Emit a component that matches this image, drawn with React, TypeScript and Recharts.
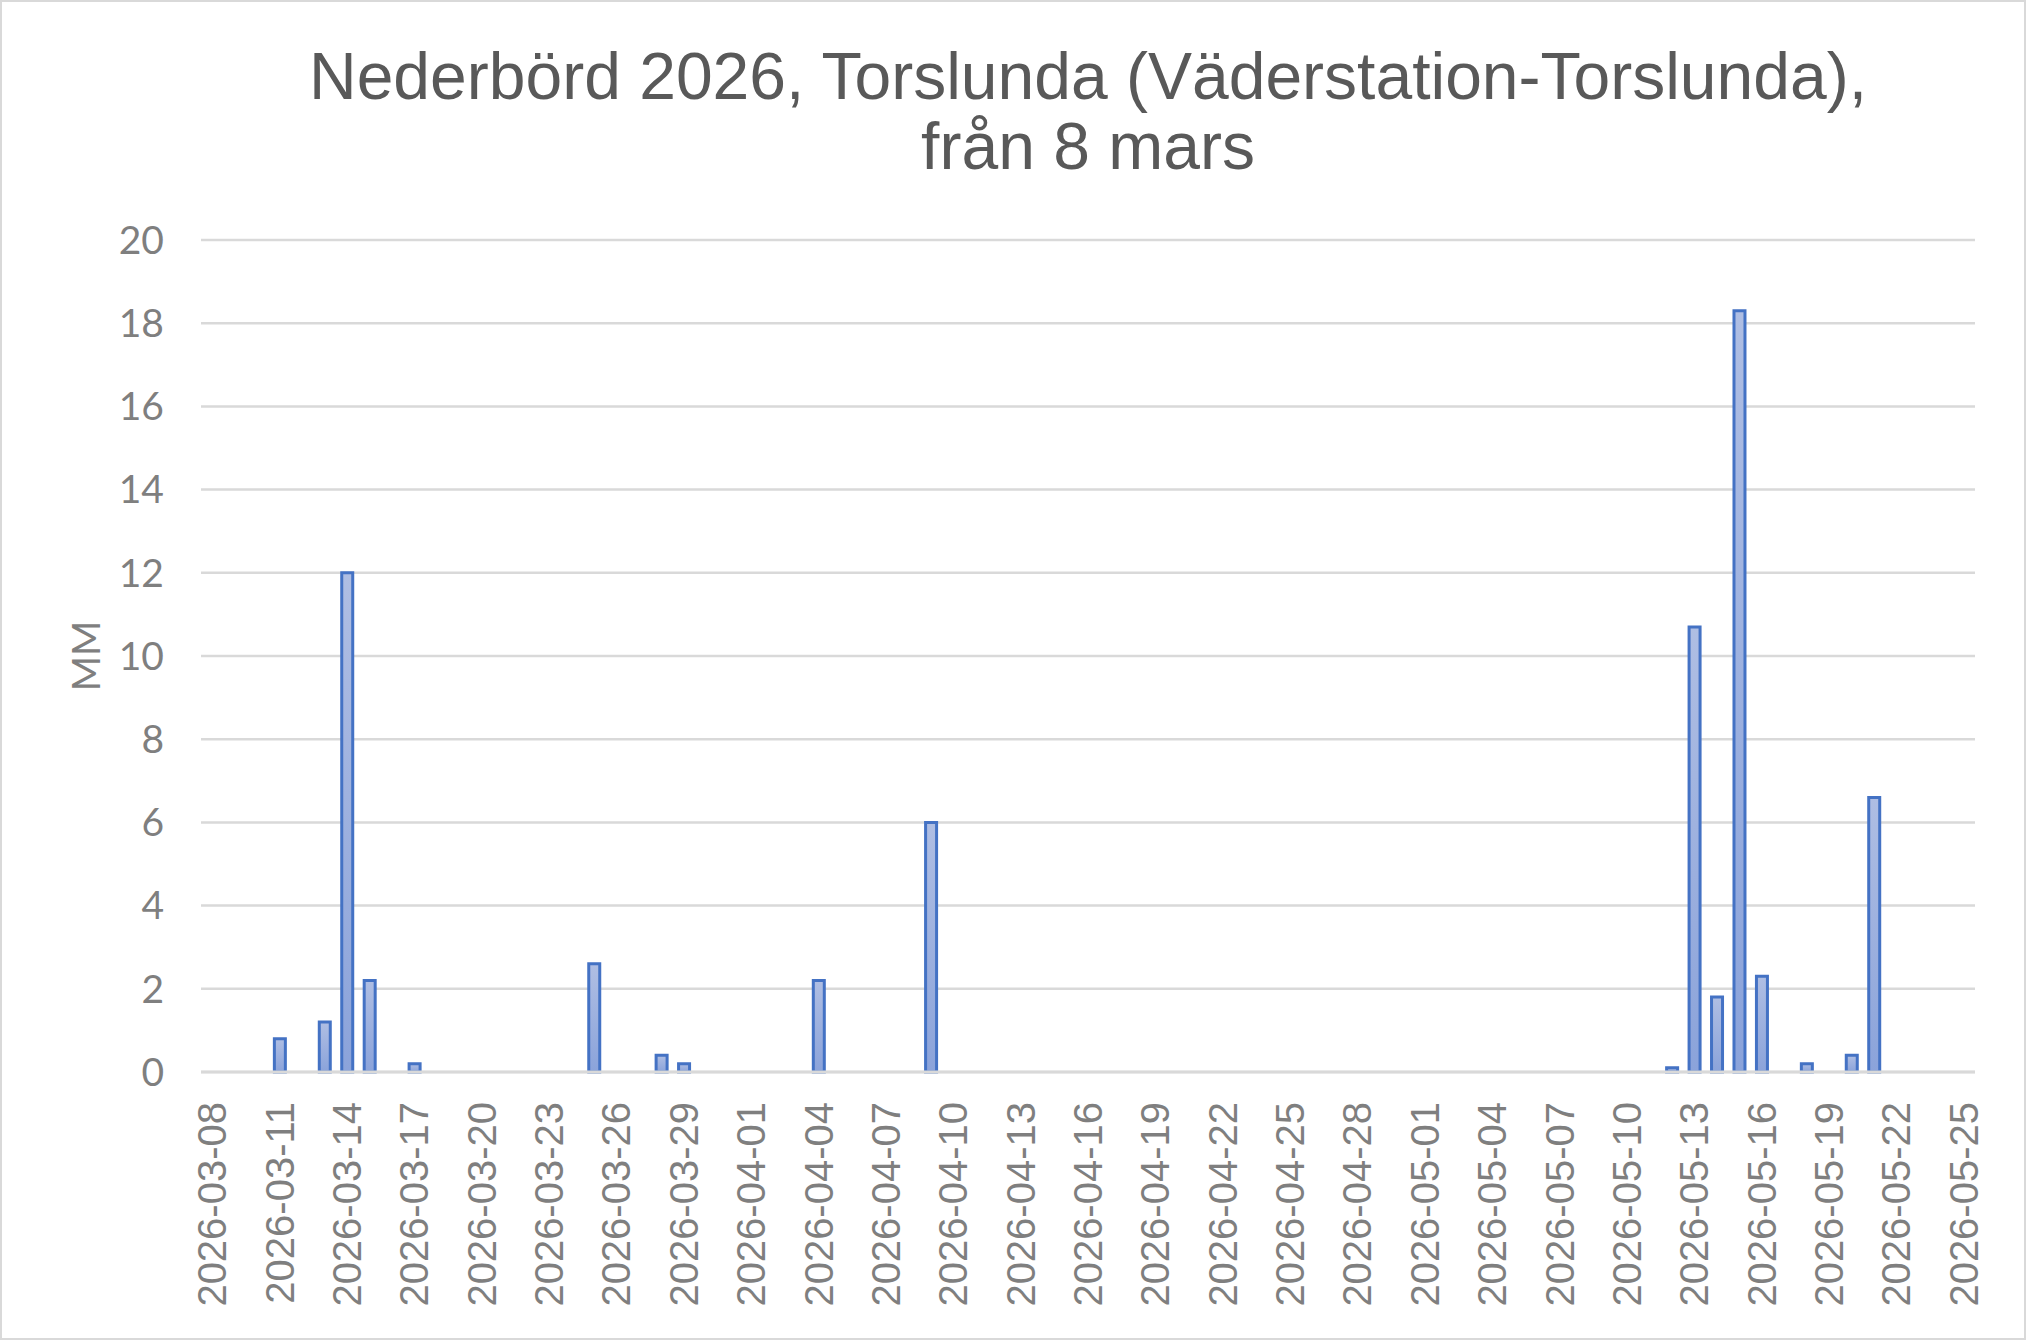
import { BarChart, Bar, XAxis, YAxis, CartesianGrid } from "recharts";

// dagar med nederbörd (mm)
const START_DATE = "2026-03-08";
const rainDates = [
    "2026-03-11", "2026-03-13", "2026-03-14", "2026-03-15", "2026-03-17",
    "2026-03-25", "2026-03-28", "2026-03-29", "2026-04-04", "2026-04-09",
    "2026-05-12", "2026-05-13", "2026-05-14", "2026-05-15", "2026-05-16",
    "2026-05-18", "2026-05-20", "2026-05-21",
];
const rainMm = [
    0.8, 1.2, 12, 2.2, 0.2,
    2.6, 0.4, 0.2, 2.2, 6.0,
    0.1, 10.7, 1.8, 18.3, 2.3,
    0.2, 0.4, 6.6,
];

const xTickLabels = [
    "2026-03-08", "2026-03-11", "2026-03-14", "2026-03-17", "2026-03-20",
    "2026-03-23", "2026-03-26", "2026-03-29", "2026-04-01", "2026-04-04",
    "2026-04-07", "2026-04-10", "2026-04-13", "2026-04-16", "2026-04-19",
    "2026-04-22", "2026-04-25", "2026-04-28", "2026-05-01", "2026-05-04",
    "2026-05-07", "2026-05-10", "2026-05-13", "2026-05-16", "2026-05-19",
    "2026-05-22", "2026-05-25",
];
const yTicks = [0, 2, 4, 6, 8, 10, 12, 14, 16, 18, 20];

const DAY = 86400000;
const dayIndex = (d: string) => Math.round((Date.parse(d) - Date.parse(START_DATE)) / DAY);

const data = rainDates.map((d, i) => ({ day: dayIndex(d), mm: rainMm[i] }));
const xTicks = xTickLabels.map(dayIndex);
const lastDay = xTicks[xTicks.length - 1];

const labelFromDay = (n: number) => xTickLabels[xTicks.indexOf(n)] ?? "";

function DateTick({ x, y, payload }: any) {
    return (
        <text
            x={x}
            y={y}
            transform={`rotate(-90, ${x}, ${y})`}
            textAnchor="end"
            dominantBaseline="central"
            fontFamily="'Liberation Sans', Arial, sans-serif"
            fontSize={40}
            fill="#7f7f7f"
        >
            {labelFromDay(payload.value)}
        </text>
    );
}

export default function App() {
    return (
        <div
            style={{
                position: "absolute",
                left: 0,
                top: 0,
                width: 2026,
                height: 1340,
                background: "#fff",
                overflow: "hidden",
            }}
        >
            <div
                style={{
                    position: "absolute",
                    left: 0,
                    top: 0,
                    width: 2026,
                    height: 1340,
                    boxSizing: "border-box",
                    border: "2px solid #d9d9d9",
                }}
            />
            <div
                style={{
                    position: "absolute",
                    left: 201,
                    top: 41,
                    width: 1774,
                    textAlign: "center",
                    fontFamily: "'Liberation Sans', Arial, sans-serif",
                    fontSize: 66,
                    lineHeight: "70px",
                    color: "#595959",
                }}
            >
                Nederbörd 2026, Torslunda (Väderstation-Torslunda),
                <br />
                från 8 mars
            </div>
            <div
                style={{
                    position: "absolute",
                    left: 85,
                    top: 656,
                    transform: "translate(-50%, -50%) rotate(-90deg)",
                    fontFamily: "Lato, sans-serif",
                    fontSize: 38,
                    color: "#7f7f7f",
                    whiteSpace: "nowrap",
                }}
            >
                MM
            </div>
            <div style={{ position: "absolute", left: 0, top: 0 }}>
                <BarChart
                    width={2026}
                    height={1340}
                    data={data}
                    margin={{ top: 240, right: 51, bottom: 0, left: 0 }}
                >
                    <defs>
                        <linearGradient id="barFill" x1="0" y1="0" x2="0" y2="1">
                            <stop offset="0%" stopColor="#afbee3" />
                            <stop offset="100%" stopColor="#8ba3da" />
                        </linearGradient>
                    </defs>
                    <CartesianGrid vertical={false} stroke="#d9d9d9" strokeWidth={2.5} />
                    <XAxis
                        type="number"
                        dataKey="day"
                        domain={[-0.5, lastDay + 0.5]}
                        ticks={xTicks}
                        interval={0}
                        height={268}
                        tickSize={0}
                        tickMargin={30}
                        tickLine={false}
                        axisLine={{ stroke: "#d9d9d9", strokeWidth: 3 }}
                        tick={<DateTick />}
                        allowDataOverflow
                    />
                    <YAxis
                        domain={[0, 20]}
                        ticks={yTicks}
                        interval={0}
                        width={201}
                        axisLine={false}
                        tickLine={false}
                        tickSize={0}
                        tickMargin={37}
                        tick={{ fontSize: 39, fill: "#7f7f7f", fontFamily: "Lato, sans-serif" }}
                    />
                    <Bar
                        dataKey="mm"
                        barSize={11}
                        fill="url(#barFill)"
                        stroke="#4472c4"
                        strokeWidth={3}
                        isAnimationActive={false}
                    />
                </BarChart>
            </div>
        </div>
    );
}
